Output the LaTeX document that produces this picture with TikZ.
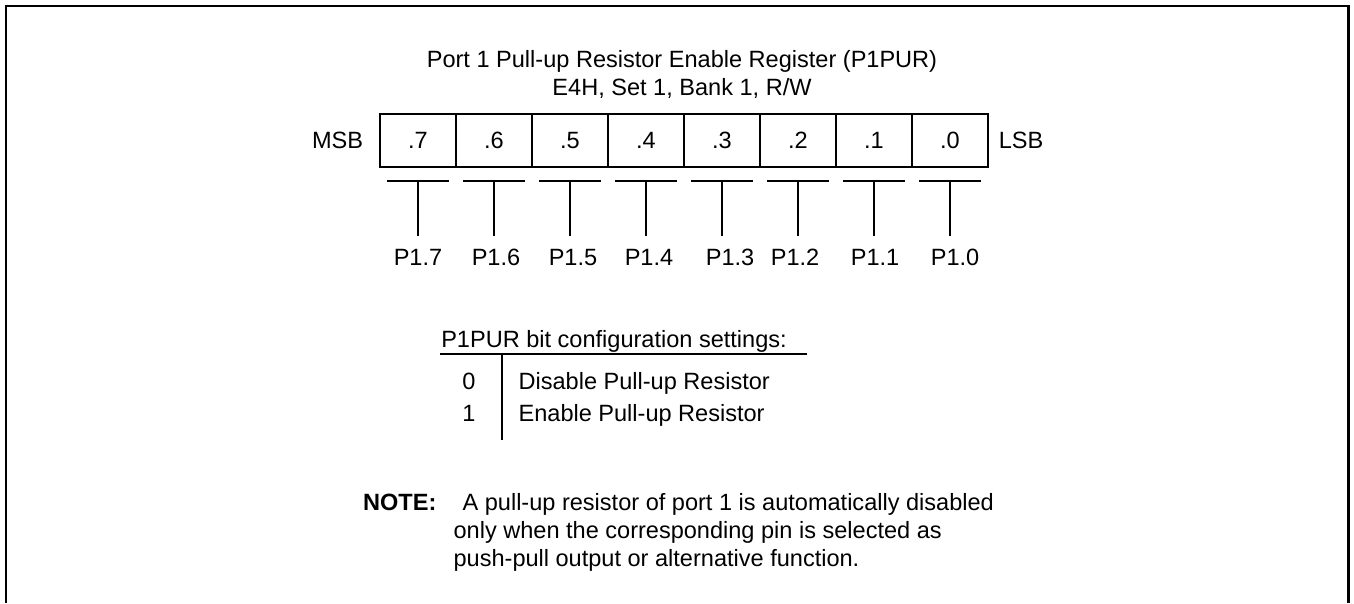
\documentclass[tikz,border=0pt]{standalone}
\usepackage{fontspec}
\setmainfont{Liberation Sans}
\usetikzlibrary{positioning}

\tikzset{
  bitcell/.style = {draw, minimum width=1.52cm, minimum height=1.06cm, inner sep=0pt, outer sep=0pt},
  pinlabel/.style = {anchor=base, inner sep=0.24cm},
  txt/.style = {inner sep=0pt},
}

\begin{document}
\begin{tikzpicture}[x=0.02cm, y=-0.02cm, font=\fontsize{13.4}{16}\selectfont, line width=0.7pt]
\useasboundingbox (0,0) rectangle (1354,603);
\draw[line width=1.3pt] (6,603) -- (6,6) -- (1348.5,6) -- (1348.5,603);

\node[txt, anchor=north, align=center] (title) at (682,50) {Port 1 Pull-up Resistor Enable Register (P1PUR)\\E4H, Set 1, Bank 1, R/W};

\node[bitcell] (b7) at (418,140.5) {.7};
\node[bitcell, right=0pt of b7] (b6) {.6};
\node[bitcell, right=0pt of b6] (b5) {.5};
\node[bitcell, right=0pt of b5] (b4) {.4};
\node[bitcell, right=0pt of b4] (b3) {.3};
\node[bitcell, right=0pt of b3] (b2) {.2};
\node[bitcell, right=0pt of b2] (b1) {.1};
\node[bitcell, right=0pt of b1] (b0) {.0};
\node[left=0.21cm of b7] (msb) {MSB};
\node[right=0.09cm of b0] (lsb) {LSB};

\draw ([xshift=0.14cm,yshift=-0.28cm]b7.south west) -- ([xshift=-0.14cm,yshift=-0.28cm]b7.south east);
\draw ([xshift=0.14cm,yshift=-0.28cm]b6.south west) -- ([xshift=-0.14cm,yshift=-0.28cm]b6.south east);
\draw ([xshift=0.14cm,yshift=-0.28cm]b5.south west) -- ([xshift=-0.14cm,yshift=-0.28cm]b5.south east);
\draw ([xshift=0.14cm,yshift=-0.28cm]b4.south west) -- ([xshift=-0.14cm,yshift=-0.28cm]b4.south east);
\draw ([xshift=0.14cm,yshift=-0.28cm]b3.south west) -- ([xshift=-0.14cm,yshift=-0.28cm]b3.south east);
\draw ([xshift=0.14cm,yshift=-0.28cm]b2.south west) -- ([xshift=-0.14cm,yshift=-0.28cm]b2.south east);
\draw ([xshift=0.14cm,yshift=-0.28cm]b1.south west) -- ([xshift=-0.14cm,yshift=-0.28cm]b1.south east);
\draw ([xshift=0.14cm,yshift=-0.28cm]b0.south west) -- ([xshift=-0.14cm,yshift=-0.28cm]b0.south east);

\node[pinlabel] (p7) at (418,265) {P1.7};
\node[pinlabel] (p6) at (496,265) {P1.6};
\node[pinlabel] (p5) at (573,265) {P1.5};
\node[pinlabel] (p4) at (649,265) {P1.4};
\node[pinlabel] (p3) at (730,265) {P1.3};
\node[pinlabel] (p2) at (795,265) {P1.2};
\node[pinlabel] (p1) at (875,265) {P1.1};
\node[pinlabel] (p0) at (955,265) {P1.0};

\draw ([yshift=-0.28cm]b7.south) -- (b7.south |- p7.north);
\draw ([yshift=-0.28cm]b6.south) -- (b6.south |- p6.north);
\draw ([yshift=-0.28cm]b5.south) -- (b5.south |- p5.north);
\draw ([yshift=-0.28cm]b4.south) -- (b4.south |- p4.north);
\draw ([yshift=-0.28cm]b3.south) -- (b3.south |- p3.north);
\draw ([yshift=-0.28cm]b2.south) -- (b2.south |- p2.north);
\draw ([yshift=-0.28cm]b1.south) -- (b1.south |- p1.north);
\draw ([yshift=-0.28cm]b0.south) -- (b0.south |- p0.north);

\node[txt, anchor=base] (cfg) at (614,347) {P1PUR bit configuration settings:};
\coordinate (rl) at (440,354);
\coordinate (rr) at (807,354);
\draw (rl) -- (rr);
\coordinate (vt) at (502,354);
\coordinate (vb) at (502,440);
\draw (vt) -- (vb);
\node[txt, anchor=base] (v0) at (469,389) {0};
\node[txt, anchor=base west] (d0) at (518,389) {Disable Pull-up Resistor};
\node[txt, anchor=base] (v1) at (469,421) {1};
\node[txt, anchor=base west] (e1) at (518,421) {Enable Pull-up Resistor};

\node[txt, anchor=base east] (note) at (437,510) {\textbf{NOTE:}};
\node[txt, anchor=north west, align=left] (notetext) at (453,493) {\hspace*{0.18cm}A pull-up resistor of port 1 is automatically disabled\\only when the corresponding pin is selected as\\push-pull output or alternative function.};
\end{tikzpicture}
\end{document}
